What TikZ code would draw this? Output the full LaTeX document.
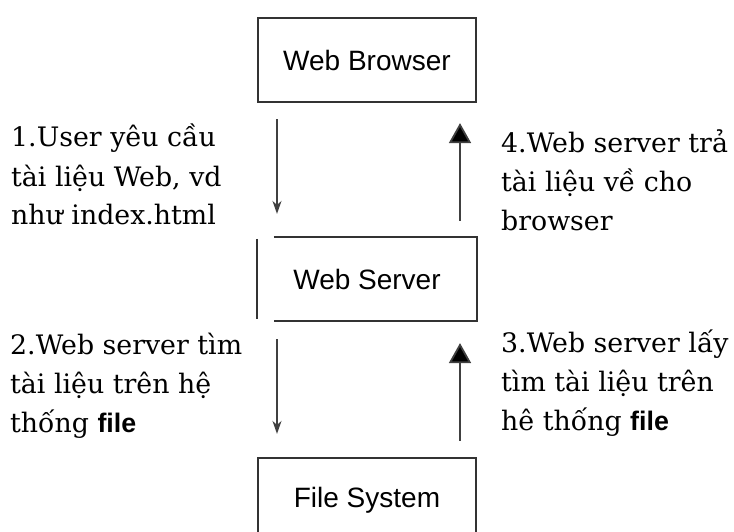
\documentclass[tikz,border=0pt]{standalone}
\usepackage{fontspec}
\setmainfont{DejaVu Serif}
\newfontfamily\boxfont{Liberation Sans}
\usetikzlibrary{arrows.meta}

\tikzset{
  box/.style={minimum width=218pt,minimum height=84pt,inner sep=0pt,
    line width=2.2pt,font=\boxfont\fontsize{28}{34}\selectfont},
  boxline/.style={line width=2.2pt,draw=black!80},
  note/.style={anchor=base west,align=left,inner sep=0pt,
    font=\fontsize{26.8}{39}\selectfont},
  flow/.style={line width=1.8pt,draw=black!75},
  down/.style={-{Stealth[length=13pt,width=9pt]}},
  up/.style={-{Triangle[length=20pt,width=22pt]}}
}
\newcommand{\fb}[1]{{\boxfont\bfseries #1}}

\begin{document}
\begin{tikzpicture}[x=1pt,y=-1pt]
  \clip (0,0) rectangle (734,532);
  \fill[white] (0,0) rectangle (734,532);

  % the three boxes
  \node[box,draw=black!80] (wb) at (367,60) {Web Browser};
  \node[box,minimum height=82pt] (ws) at (367,279) {Web Server};
  \node[box,draw=black!80] (fs) at (367,500) {File System};
  \draw[boxline] ([xshift=17pt]ws.north west) -- (ws.north east)
    -- (ws.south east) -- ([xshift=17pt]ws.south west);
  \draw[boxline] ([yshift=-2pt]ws.north west) -- ([yshift=2pt]ws.south west);

  % requests and answers
  \path[flow]
    ([xshift=-90pt]wb.south) edge[down,shorten <=16pt,shorten >=23pt] ([xshift=-90pt]ws.north)
    ([xshift=93pt]ws.north)  edge[up,shorten <=16pt,shorten >=20pt]   ([xshift=93pt]wb.south)
    ([xshift=-90pt]ws.south) edge[down,shorten <=18pt,shorten >=23pt] ([xshift=-90pt]fs.north)
    ([xshift=93pt]fs.north)  edge[up,shorten <=16pt,shorten >=22pt]   ([xshift=93pt]ws.south);

  % the base anchor sits on the last line
  \node[note] (req) at (11,225) {1.User yêu cầu\\tài liệu Web, vd\\như index.html};
  \node[note] (ans) at (501,230) {4.Web server trả\\tài liệu về cho\\browser};
  \node[note] (find) at (10,432) {2.Web server tìm\\tài liệu trên hệ\\thống \fb{file}};
  \node[note] (get) at (501,430) {3.Web server lấy\\tìm tài liệu trên\\hê thống \fb{file}};
\end{tikzpicture}
\end{document}
